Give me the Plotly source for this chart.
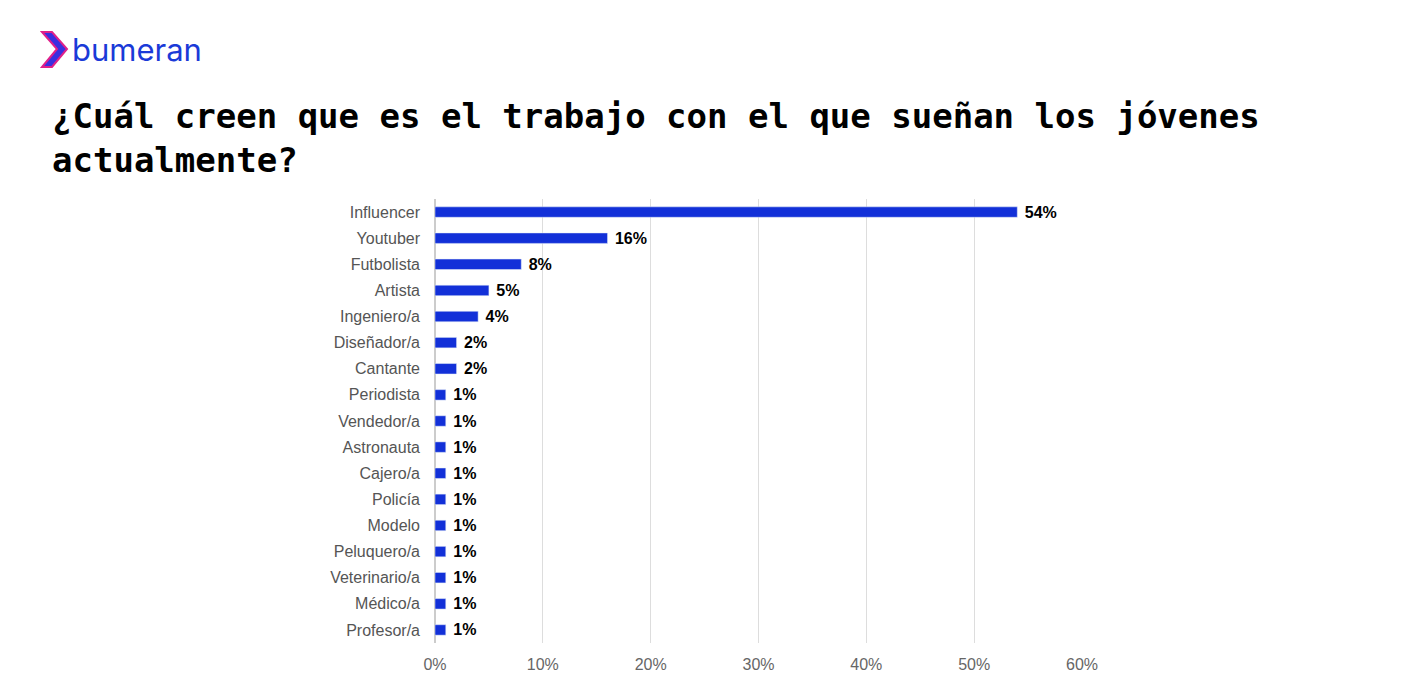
import plotly.graph_objects as go

categories = ["Influencer","Youtuber","Futbolista","Artista","Ingeniero/a","Diseñador/a","Cantante",
              "Periodista","Vendedor/a","Astronauta","Cajero/a","Policía","Modelo","Peluquero/a",
              "Veterinario/a","Médico/a","Profesor/a"]
values = [54,16,8,5,4,2,2,1,1,1,1,1,1,1,1,1,1]
tick_vals = [0,10,20,30,40,50,60]
tick_text = ["0%","10%","20%","30%","40%","50%","60%"]

PW = 647
fig = go.Figure(go.Bar(
    x=values, y=categories, orientation="h", width=0.4,
    marker_color="#1230d8",
    text=[f" {v}%" for v in values], textposition="outside", constraintext="none",
    textfont=dict(family="Liberation Sans, Arial", size=16, color="black", weight="bold"),
    cliponaxis=False,
))
fig.update_layout(
    width=1405, height=678, paper_bgcolor="white", plot_bgcolor="white",
    margin=dict(l=427, r=331, t=191, b=43),
    showlegend=False,
    font=dict(family="Liberation Sans, Arial", size=16, color="#555555"),
    xaxis=dict(range=[0,60], tickvals=tick_vals, ticktext=tick_text, showgrid=True,
               gridcolor="#dddddd", zeroline=True, zerolinecolor="#cccccc", ticks="",
               ticklabelstandoff=10, tickfont=dict(size=16, color="#666666")),
    yaxis=dict(autorange="reversed", ticks="", ticklabelstandoff=14,
               tickfont=dict(size=16, color="#555555")),
    bargap=0.6,
)
fig.add_annotation(xref="paper", yref="paper", x=-(435-50)/PW, y=1+(199-138)/444,
    xanchor="left", yanchor="middle", align="left", showarrow=False,
    text="¿Cuál creen que es el trabajo con el que sueñan los jóvenes<br>actualmente?",
    font=dict(family="DejaVu Sans Mono", size=34, color="black", weight="bold"))
fig.add_annotation(xref="paper", yref="paper", x=-(435-70)/PW, y=1+(199-49)/444,
    xanchor="left", yanchor="middle", showarrow=False, text="bumeran",
    font=dict(family="Inter, Roboto", size=31, color="#1a3ad8"))
x0 = -(435-42)/PW; x1 = -(435-52)/PW; x2 = -(435-67)/PW
yt = 1+(199-32)/444; ym = 1+(199-49)/444; yb = 1+(199-67)/444
fig.add_shape(type="path", xref="paper", yref="paper",
    path=f"M {x0},{yt} L {x1},{yt} L {x2},{ym} L {x1},{yb} L {x0},{yb} L {x0+ (x2-x1)},{ym} Z",
    fillcolor="#3a2fe0", line=dict(color="#e0208a", width=2))
fig.write_html("out.html")
